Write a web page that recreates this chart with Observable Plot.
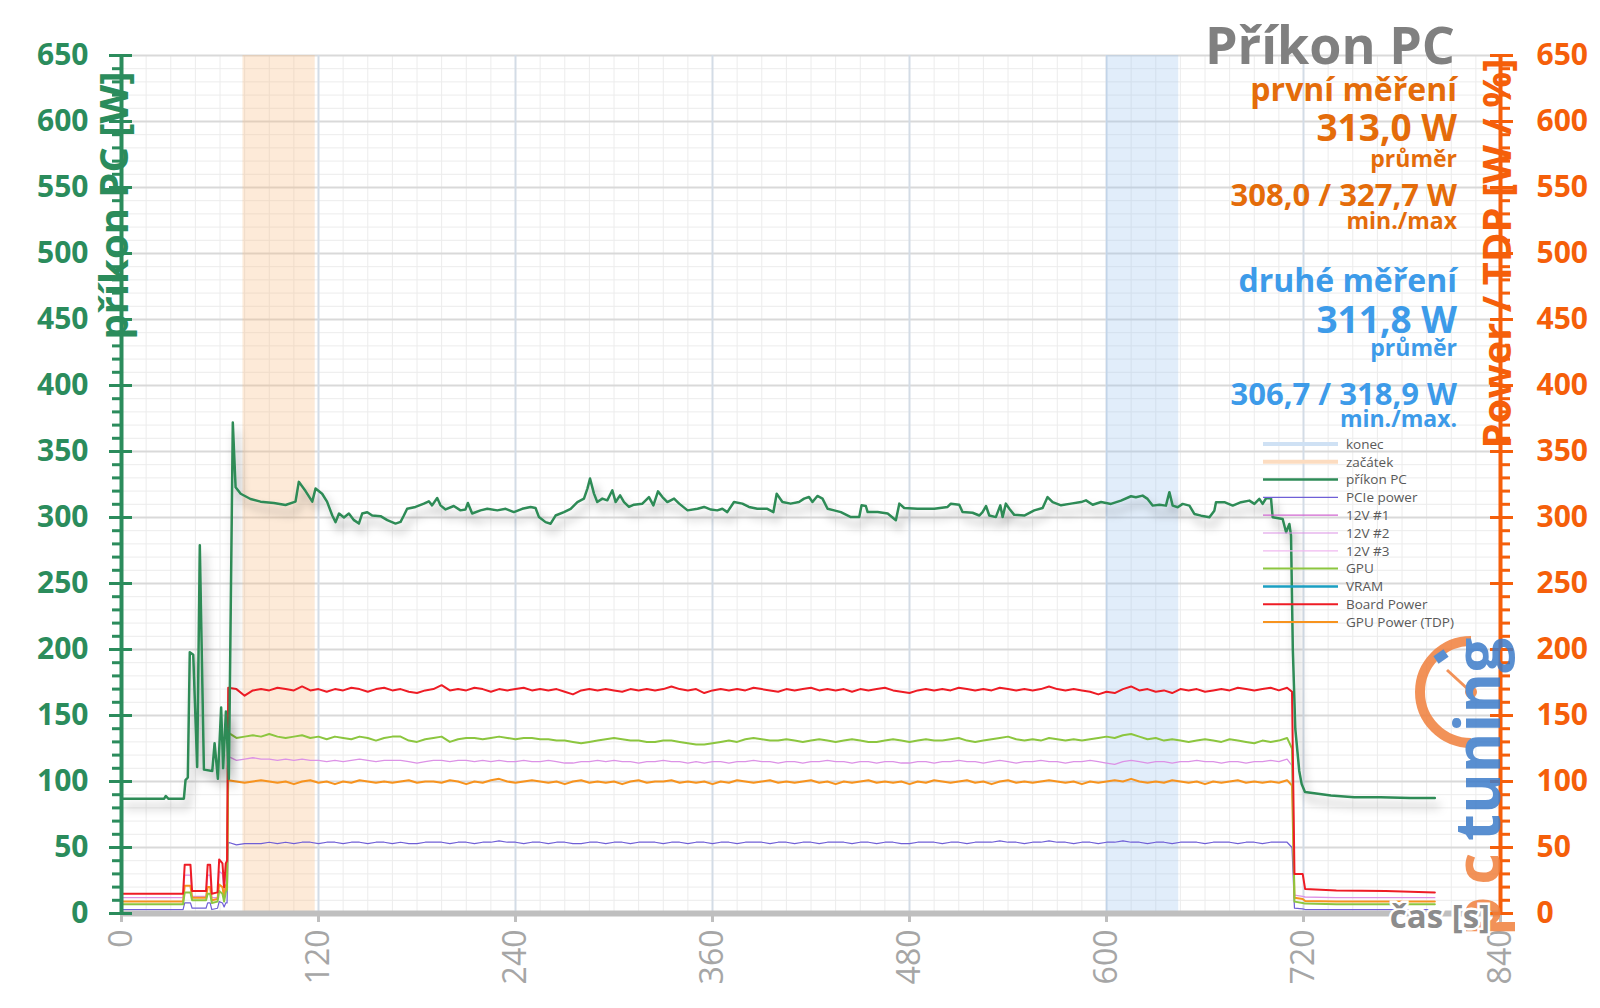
<!DOCTYPE html>
<html><head><meta charset="utf-8">
<script src="https://cdn.jsdelivr.net/npm/d3@7"></script>
<script src="https://cdn.jsdelivr.net/npm/@observablehq/plot@0.6"></script>
<style>
body{margin:0;background:#fff;}
#wrap{position:relative;width:1600px;height:1008px;font-family:"Open Sans",sans-serif;}
#overlay{position:absolute;left:0;top:0;pointer-events:none;}
</style></head><body><div id="wrap"></div>
<script>
// ---------- tick values ----------
const xMajorTicks = [0,120,240,360,480,600,720,840];
const xMinorTicks = d3.range(0, 841, 15);
const yMajorTicks = [0,50,100,150,200,250,300,350,400,450,500,550,600,650];
const yMinorTicks = d3.range(0, 651, 10);

// ---------- highlighted windows ----------
const bandNames = ["začátek","konec"];
const bandStart = [74, 600];
const bandEnd = [118, 644];
const bandColors = ["#f9b97f","#9cc4ef"];

// ---------- příkon PC (whole PC) ----------
const pcTimes = [0,26,27,28.5,38,39,40.4,41.6,43.7,46.1,47.7,50.2,55.3,56.7,58.7,60.7,61.9,63.6,65.4,67.8,69.5,72.6,78.6,84.7,92.8,99.9,106,108,112.1,116.2,118.2,122.2,125.2,128.4,130.4,132.5,135.5,138.5,141.6,144.6,146.6,149.7,152.7,157.8,161.9,166.9,170,172,174,179.1,184.2,187.2,189.2,192.3,194.3,197.4,202.4,206.5,209.5,211,213.6,218.7,222.8,228.9,234,239,244.1,249.2,252.2,254.3,258.3,261.4,264.4,269.5,273.6,277.7,281.7,283.8,285.4,287.8,289.8,292.9,295.9,299,301,303.7,306.1,309.1,312.2,317.3,321.3,324,326.8,329.5,332.5,336.6,339.7,344.8,350.9,354.9,359,362.9,366,369,373.1,378.2,382.2,387.3,393.4,397.1,399.1,402.6,407.6,412.7,415.8,418.8,420.9,423.9,427,430.1,434.1,438.2,444.3,449.4,450.8,453.4,454.5,460.6,466.7,471.7,473.8,476.8,484.9,495.1,503.2,505.2,510.3,512.3,518.4,522.5,524.5,526.6,528.6,532.6,535.3,536.7,538.7,540.8,543.8,549.9,556,561.1,564.1,567.2,572.3,578.4,584.5,587.5,591.6,596.7,602.7,608.8,614.9,617.9,622,625,628.1,632.2,636.2,638.3,640.3,643.4,646.4,650.5,653.5,657.6,662.7,665.7,666.7,671.8,676.9,682,687,690.1,693.1,695.1,697.2,700.2,701.2,707.3,709.4,711.4,712.4,713.5,715,717.4,718.9,720.9,736.7,750.9,767,785,800];
const pcWatts = [87,87,89,87,87,101,103,198,196,111,279,109,108,129,102,156,110,153,102,372,323,318,314,312,311,309.5,312,327,320,312,322,318,312,301.5,296.5,303,300,303,298,295.4,303,304,301.5,301,298,295.4,296.7,301.5,306.6,308,310.5,312.3,309.2,314.8,309.2,306.1,308.7,305.4,306,311,303,305.4,306.6,305.4,306.6,304.1,306.6,308,307.2,300.3,296.5,295.3,301.5,304.1,306.6,311.7,314.3,321.9,329.5,318.1,311.7,314.3,313,320.6,311.7,316.8,311.7,308,309.7,310.5,315.5,309.2,319.8,315.5,311.7,314.3,310.5,305.4,306.6,308,306,305.4,306.6,304.1,311.7,310.5,308,306.6,306.6,304.1,318,311.7,310.5,311.7,314.3,315.5,311.7,316.3,314.3,306.6,305.4,304.1,300.3,300.3,309.2,308.7,304.1,304.1,303,297.9,310.5,307.2,306.6,306.6,308,310.5,309.7,304.1,303.6,301.5,304.1,308.7,301.5,300.3,309.2,300.3,310.5,306.6,302,301.5,305.4,307.2,315.5,311.7,309.2,310.5,311.7,313,309.7,311.7,310.3,312.8,316.1,315.3,316.6,314.1,309,309.6,309,319.2,309,307.8,310.3,309,302.7,301.4,300.2,305.2,311.6,311.6,309,311.6,312.8,310.3,314.1,310.3,314.6,314.6,300.2,298.9,288.8,295.1,286.3,200,140,108,98,92,89.4,88,88,87.5,87.5];

// ---------- graphics-card channels ----------
const idleTimes = [0,37.5,38.5,42,43,51.5,52.5,54,55,58.5,59.5,61.5,62.5,63.5,64.3];
const loadTimes = [65,70,75,80,85,90,95,100,105,110,115,120,125,130,135,140,145,150,155,160,165,170,175,180,185,190,195,200,205,210,215,220,225,230,235,240,245,250,255,260,265,270,275,280,285,290,295,300,305,310,315,320,325,330,335,340,345,350,355,360,365,370,375,380,385,390,395,400,405,410,415,420,425,430,435,440,445,450,455,460,465,470,475,480,485,490,495,500,505,510,515,520,525,530,535,540,545,550,555,560,565,570,575,580,585,590,595,600,605,610,615,620,625,630,635,640,645,650,655,660,665,670,675,680,685,690,695,700,705,710];
const endTimes = [713,714.5,719.5,721,740,770,800];

const boardIdle = [15,15,37,37,17,17,37,37,15,16,41,38,20,38,40];
const boardLoad = [171,170,165,169,170,169,171,170,169,172,
 169,170,168,170,169,171,170,168,170,171,
 169,170,168,167,169,170,173,169,170,169,
 171,170,168,170,169,170,171,169,170,169,
 170,168,166,169,170,169,170,169,168,170,
 169,170,169,170,172,170,169,170,167,169,
 170,169,170,169,171,170,169,168,170,169,
 170,171,169,170,169,170,168,170,169,170,
 171,169,168,167,169,170,169,170,169,171,
 170,169,170,169,171,170,169,170,169,170,
 172,170,169,170,169,168,166,168,167,170,
 172,169,170,168,169,167,170,169,170,168,
 169,170,169,171,170,169,170,171,169,171];
const boardEnd = [168,30,30,18.5,17.5,17,16];

const gpuIdle = [7,7,16,16,10,10,15,15,8,9,17,15,9,16,18];
const gpuLoad = [137,133,134,135,134,136,134,133,134,135,
 133,134,132,134,133,132,134,133,131,133,
 134,134,131,130,132,133,134,130,132,133,
 133,132,133,134,133,132,133,133,132,132,
 131,131,130,129,130,131,132,133,132,131,
 131,130,130,131,131,130,129,128,128,129,
 130,131,130,132,133,132,131,131,132,131,
 130,131,132,131,130,131,132,131,130,130,
 131,132,131,130,131,132,131,131,132,133,
 131,130,131,132,133,134,132,131,132,131,
 133,132,131,132,131,132,133,134,133,135,
 136,134,132,133,131,132,131,130,131,132,
 131,130,132,131,130,129,131,130,131,133];
const gpuEnd = [125,9,8,7.5,7,7,7];

const v12bIdle = [12,12,29,29,13,13,29,29,12,12,32,30,15,30,32];
const v12bLoad = [119,116,117,118,117,117,116,117,116,117,
 116,116,115,116,115,116,117,116,115,116,
 116,116,115,114,115,116,116,115,116,116,
 115,116,115,116,115,115,116,115,115,116,
 115,114,114,115,115,116,115,116,115,115,
 114,115,115,116,115,115,114,115,114,115,
 115,114,115,115,116,115,115,114,115,115,
 114,115,115,116,115,115,114,115,115,114,
 115,115,114,114,115,115,114,115,115,116,
 115,115,114,115,116,115,114,115,115,116,
 115,115,114,115,115,116,115,114,113,115,
 116,115,114,115,115,114,115,115,116,115,
 115,114,115,115,114,115,115,116,115,117];
const v12bEnd = [112,14,13,12.5,12,12,12];

const tdpIdle = [9,9,21,21,12,12,20,20,10,11,22,20,12,21,23];
const tdpLoad = [101,100,99,100,101,100,99,100,98,100,
 101,99,100,98,100,99,101,100,99,100,
 99,100,101,99,100,100,99,101,100,98,
 100,99,101,102,100,99,100,101,100,99,
 100,98,100,101,99,100,99,100,98,100,
 101,99,100,100,101,99,100,99,100,98,
 100,99,101,100,99,100,101,99,100,99,
 100,101,99,100,98,100,99,100,101,99,
 100,99,100,98,100,99,101,100,99,100,
 101,99,100,98,100,101,99,100,99,100,
 101,100,99,100,98,100,99,100,101,100,
 102,100,99,100,99,101,100,99,100,98,
 100,99,100,101,99,100,99,100,99,101];
const tdpEnd = [97,12,11,9.5,9,9,9];

const pcieIdle = [3,3,8,8,4,4,8,8,3,4,9,8,5,8,8];
const pcieLoad = [54,52,53,53,53,54,53,54,53,54,
 54,53,54,54,53,54,54,53,54,54,
 53,54,53,53,54,54,54,53,54,54,
 53,54,54,55,54,54,53,54,54,53,
 54,54,53,53,54,54,53,54,54,53,
 54,54,54,53,54,54,53,54,54,53,
 54,54,53,54,54,54,53,54,54,53,
 54,54,53,54,54,54,53,54,54,53,
 54,54,53,53,54,54,54,53,54,54,
 53,54,54,54,55,54,54,53,54,54,
 55,54,54,53,54,54,53,54,54,55,
 54,54,53,54,54,53,54,54,54,53,
 54,54,54,53,54,54,53,54,54,54];
const pcieEnd = [50,4,3.5,3,3,3,3];

// ---------- legend ----------
const legendNames = ["konec","začátek","příkon PC","PCIe power","12V #1","12V #2","12V #3","GPU","VRAM","Board Power","GPU Power (TDP)"];
const legendColors = ["#cfe1f4","#fcdcc0","#2e8b57","#6f5fd6","#d066d0","#dc92e6","#f0b8f0","#8cc63f","#1b9fc2","#ee1c25","#f7931e"];
const legendWidths = [4,4,2.5,1.2,1.2,1.2,1.2,2,2.5,2,2];

// ---------- text block ----------
const titleText = "Příkon PC";
const firstLines = ["první měření","313,0 W","průměr","308,0 / 327,7 W","min./max"];
const secondLines = ["druhé měření","311,8 W","průměr","306,7 / 318,9 W","min./max."];

// ---------- build ----------
const green = "#2b8c5c", orangeAx = "#f55f0a", pcColor = "#2e8b57";
function series(name, idle, load, end){
  const rows = [];
  idleTimes.forEach((t,i)=>rows.push({t, v: idle[i], name}));
  loadTimes.forEach((t,i)=>rows.push({t, v: load[i], name}));
  endTimes.forEach((t,i)=>rows.push({t, v: end[i], name}));
  return rows;
}
const pcRows = pcTimes.map((t,i)=>({t, v: pcWatts[i]}));
const bandRows = bandNames.map((n,i)=>({name:n, start:bandStart[i], end:bandEnd[i], color:bandColors[i]}));
const lowSeries = [
  {rows: series("PCIe power", pcieIdle, pcieLoad, pcieEnd), color:"#6f5fd6", w:1.2},
  {rows: series("12V #2", v12bIdle, v12bLoad, v12bEnd), color:"#dc92e6", w:1.3},
  {rows: series("GPU Power (TDP)", tdpIdle, tdpLoad, tdpEnd), color:"#f7931e", w:2},
  {rows: series("GPU", gpuIdle, gpuLoad, gpuEnd), color:"#8cc63f", w:2},
  {rows: series("Board Power", boardIdle, boardLoad, boardEnd), color:"#ee1c25", w:2}
];

const plot = Plot.plot({
  width:1600, height:1008, marginLeft:121, marginRight:100, marginTop:55, marginBottom:95,
  x:{domain:[0,840], label:null},
  y:{domain:[0,650], label:null},
  style:{fontFamily:"'Open Sans', sans-serif", background:"transparent", overflow:"visible"},
  marks:[
    Plot.ruleY(yMinorTicks, {stroke:"#ececec", strokeWidth:1}),
    Plot.ruleX(xMinorTicks, {stroke:"#ececec", strokeWidth:1}),
    Plot.ruleY(yMajorTicks, {stroke:"#d9d9d9", strokeWidth:2}),
    Plot.ruleX(xMajorTicks, {stroke:"#d3dce6", strokeWidth:2}),
    Plot.rect(bandRows, {x1:"start", x2:"end", fill:"color", fillOpacity:0.3}),
    ...lowSeries.map(s => Plot.line(s.rows, {x:"t", y:"v", stroke:s.color, strokeWidth:s.w})),
    Plot.line(pcRows, {x:"t", y:"v", stroke:pcColor, strokeWidth:2.5}),
    Plot.ruleY([0], {stroke:"#bfbfbf", strokeWidth:6}),
    Plot.axisX({ticks:xMajorTicks, tickRotate:-90, tickSize:9, tickPadding:7, fontSize:32, stroke:"#bfbfbf", strokeWidth:3, fill:"#a6a6a6", label:null}),
    // left axis
    Plot.ruleX([0], {stroke:green, strokeWidth:4}),
    Plot.axisY({anchor:"left", ticks:yMinorTicks, tickSize:9, tickFormat:()=>"", stroke:green, strokeWidth:3, label:null}),
    Plot.axisY({anchor:"left", ticks:yMajorTicks, tickSize:23, dx:11, tickFormat:()=>"", stroke:green, strokeWidth:3, label:null}),
    Plot.axisY({anchor:"left", ticks:yMajorTicks, tickSize:0, tickPadding:33, fontSize:30, fontWeight:"bold", fill:green, label:null}),
    // right axis
    Plot.ruleX([840], {stroke:orangeAx, strokeWidth:4}),
    Plot.axisY({anchor:"right", ticks:yMinorTicks, tickSize:9, tickFormat:()=>"", stroke:orangeAx, strokeWidth:3, label:null}),
    Plot.axisY({anchor:"right", ticks:yMajorTicks, tickSize:23, dx:-11, tickFormat:()=>"", stroke:orangeAx, strokeWidth:3, label:null}),
    Plot.axisY({anchor:"right", ticks:yMajorTicks, tickSize:0, tickPadding:36, fontSize:30, fontWeight:"bold", fill:orangeAx, label:null}),
    // axis titles
    Plot.text(["příkon PC [W]"], {text:d=>d, frameAnchor:"top-left", rotate:-90, textAnchor:"end", lineAnchor:"bottom", dx:6, dy:16, fontSize:40, fontWeight:"bold", fill:green}),
    Plot.text(["Power / TDP [W / %]"], {text:d=>d, frameAnchor:"top-right", rotate:-90, textAnchor:"end", lineAnchor:"bottom", dx:10, dy:3, fontSize:40, fontWeight:"bold", fill:orangeAx})
  ]
});

const wrap = document.getElementById("wrap");
wrap.appendChild(plot);

// shadow under the PC line
const psvg = d3.select(plot);
const defs = psvg.insert("defs", ":first-child");
defs.append("filter").attr("id","pcshadow").attr("x","-5%").attr("y","-10%").attr("width","110%").attr("height","130%")
  .append("feDropShadow").attr("dx",4).attr("dy",8).attr("stdDeviation",5).attr("flood-color","#000").attr("flood-opacity",0.35);
psvg.selectAll('g[aria-label="line"]').filter(function(){return this.getAttribute("stroke")===pcColor;}).attr("filter","url(#pcshadow)");

// ---------- overlay: text block, legend, logo, x label ----------
const ov = d3.select(wrap).append("svg").attr("id","overlay").attr("width",1600).attr("height",1008)
  .style("font-family","'Open Sans', sans-serif");

// logo (watermark)
const logo = ov.append("g").attr("opacity",0.85);
logo.append("path").attr("d","M1471,641 A51,51 0 0 0 1471,743").attr("fill","none").attr("stroke","#f07f3c").attr("stroke-width",10);
logo.append("line").attr("x1",1436).attr("y1",660).attr("x2",1446).attr("y2",653).attr("stroke","#3d7cc9").attr("stroke-width",9);
logo.append("line").attr("x1",1471).attr("y1",692).attr("x2",1447).attr("y2",670).attr("stroke","#f07f3c").attr("stroke-width",3);
logo.append("circle").attr("cx",1471).attr("cy",692).attr("r",6).attr("fill","#f07f3c");
const lt = logo.append("text").attr("transform","translate(1500,936) rotate(-90)").attr("font-size",62).attr("font-weight","bold");
lt.append("tspan").attr("fill","#f07f3c").attr("letter-spacing",12).text("pc");
lt.append("tspan").attr("fill","#3d7cc9").text("tuning");

// x label
ov.append("text").attr("x",1490).attr("y",928).attr("text-anchor","end").attr("font-size",33).attr("font-weight","bold")
  .attr("fill","#8c8c8c").attr("stroke","#fff").attr("stroke-width",5).attr("paint-order","stroke").text("čas [s]");

// text block
const tb = ov.append("g").attr("text-anchor","end").attr("font-weight","bold");
tb.append("text").attr("x",1455).attr("y",64).attr("font-size",52).attr("fill","#808080").text(titleText);
const sizes = [32,37,23,31,23];
const firstY = [101,141,167,206,229];
const secondY = [292,333,356,405,427];
firstLines.forEach((s,i)=>tb.append("text").attr("x",1457).attr("y",firstY[i]).attr("font-size",sizes[i]).attr("fill","#e46c0a").text(s));
secondLines.forEach((s,i)=>tb.append("text").attr("x",1457).attr("y",secondY[i]).attr("font-size",sizes[i]).attr("fill","#3d9be9").text(s));

// legend
const lg = ov.append("g");
legendNames.forEach((n,i)=>{
  const y = 444 + i*17.8;
  lg.append("line").attr("x1",1263).attr("x2",1338).attr("y1",y).attr("y2",y).attr("stroke",legendColors[i]).attr("stroke-width",legendWidths[i]);
  lg.append("text").attr("x",1346).attr("y",y).attr("dy","0.35em").attr("font-size",13.5).attr("fill","#595959").text(n);
});
</script></body></html>
